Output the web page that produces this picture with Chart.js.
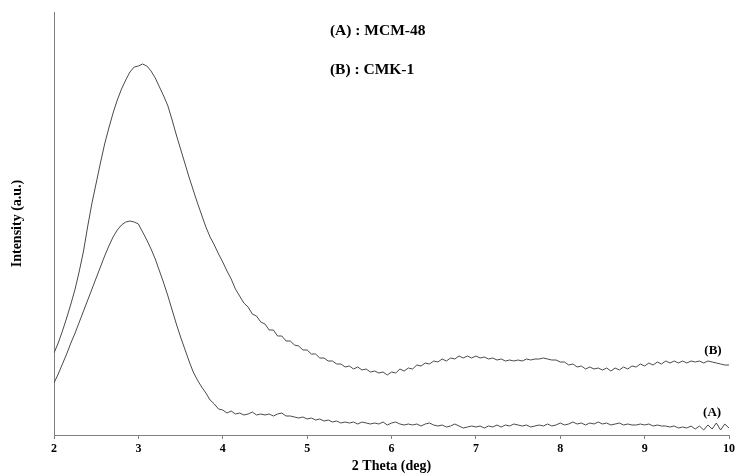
<!DOCTYPE html>
<html><head><meta charset="utf-8">
<script src="https://cdn.jsdelivr.net/npm/chart.js@4/dist/chart.umd.min.js"></script>
<style>html,body{margin:0;padding:0;background:#fff}#wrap{width:735px;height:476px}</style>
</head><body><div id="wrap"><canvas id="c" width="735" height="476"></canvas></div>
<script>
const twoTheta = [
2.00,2.05,2.10,2.15,2.20,2.25,2.30,2.35,2.40,2.45,
2.50,2.55,2.60,2.65,2.70,2.75,2.80,2.85,2.90,2.95,
3.00,3.05,3.10,3.15,3.20,3.25,3.30,3.35,3.40,3.45,
3.50,3.55,3.60,3.65,3.70,3.75,3.80,3.85,3.90,3.95,
4.00,4.05,4.10,4.15,4.20,4.25,4.30,4.35,4.40,4.45,
4.50,4.55,4.60,4.65,4.70,4.75,4.80,4.85,4.90,4.95,
5.00,5.05,5.10,5.15,5.20,5.25,5.30,5.35,5.40,5.45,
5.50,5.55,5.60,5.65,5.70,5.75,5.80,5.85,5.90,5.95,
6.00,6.05,6.10,6.15,6.20,6.25,6.30,6.35,6.40,6.45,
6.50,6.55,6.60,6.65,6.70,6.75,6.80,6.85,6.90,6.95,
7.00,7.05,7.10,7.15,7.20,7.25,7.30,7.35,7.40,7.45,
7.50,7.55,7.60,7.65,7.70,7.75,7.80,7.85,7.90,7.95,
8.00,8.05,8.10,8.15,8.20,8.25,8.30,8.35,8.40,8.45,
8.50,8.55,8.60,8.65,8.70,8.75,8.80,8.85,8.90,8.95,
9.00,9.05,9.10,9.15,9.20,9.25,9.30,9.35,9.40,9.45,
9.50,9.55,9.60,9.65,9.70,9.75,9.80,9.85,9.90,9.95,
10.00];

// (A) MCM-48 intensity (a.u.)
const mcm48 = [
52,61,71,81,92,102,113,124,135,146,
157,168,179,189,198,205,210,213,214,213,
211,203,195,186,176,164,152,139,125,111,
98,86,74,63,55,48,42,35,31,26,
25,22,24,21,22,20,21,23,20,21,
20,21,19,21,22,19,19,18,17,18,
16,17,15,16,14,15,13,14,12,13,
12,13,11,13,12,11,12,11,13,10,
12,13,11,10,11,10,11,9,11,12,
10,9,10,8,9,11,9,7,8,9,
8,9,7,9,8,10,8,10,9,11,
10,9,10,8,9,10,9,11,9,10,
12,10,11,13,11,12,10,12,11,13,
11,12,10,11,12,10,11,10,10,11,
10,11,9,10,9,9,8,9,7,8,
7,9,6,9,5,10,6,12,5,11,
7];

// (B) CMK-1 intensity (a.u.)
const cmk1 = [
82,92,104,117,131,146,164,184,209,232,
252,272,291,307,322,335,346,355,363,368,
369,371,369,364,357,348,339,329,315,300,
286,272,258,245,232,220,208,198,190,181,
173,164,156,146,139,132,128,121,119,113,
111,105,105,99,99,94,94,90,89,85,
85,81,81,77,77,74,74,71,71,68,
69,66,68,65,66,63,64,62,63,60,
63,62,66,64,67,66,70,69,72,71,
74,73,76,74,77,76,79,77,79,77,
79,77,78,76,77,75,76,74,75,74,
75,74,76,75,76,76,77,76,75,75,
73,73,70,71,68,69,66,68,66,67,
65,67,64,67,65,68,66,69,68,71,
69,72,70,73,71,74,72,74,72,74,
72,74,73,74,72,74,73,72,71,70,
70];

const xMin = 2, xMax = 10, xStep = 1;
const yMin = 0, yMax = 423;

const notes = [
  {text: '(A) : MCM-48', x: 5.27, y: 404, size: 15.5, align: 'left'},
  {text: '(B) : CMK-1',  x: 5.27, y: 365, size: 15.5, align: 'left'},
  {text: '(B)', x: 9.81, y: 84, size: 13, align: 'center'},
  {text: '(A)', x: 9.80, y: 22, size: 13, align: 'center'}
];

const SERIF = '"Liberation Serif", "Times New Roman", serif';

const notePlugin = {
  id: 'notes',
  afterDatasetsDraw(chart) {
    const {ctx, scales} = chart;
    ctx.save();
    ctx.fillStyle = '#000';
    ctx.textBaseline = 'middle';
    notes.forEach(n => {
      ctx.font = 'bold ' + n.size + 'px ' + SERIF;
      ctx.textAlign = n.align;
      ctx.fillText(n.text, scales.x.getPixelForValue(n.x), scales.y.getPixelForValue(n.y));
    });
    ctx.restore();
  }
};

const lineColor = '#4a4a4a';
const axisColor = '#808080';

new Chart(document.getElementById('c'), {
  type: 'line',
  data: {
    datasets: [
      {label: '(A) MCM-48', data: twoTheta.map((x, i) => ({x, y: mcm48[i]})),
       borderColor: lineColor, borderWidth: 1, pointRadius: 0, tension: 0, fill: false},
      {label: '(B) CMK-1', data: twoTheta.map((x, i) => ({x, y: cmk1[i]})),
       borderColor: lineColor, borderWidth: 1, pointRadius: 0, tension: 0, fill: false}
    ]
  },
  options: {
    responsive: false,
    animation: false,
    layout: {padding: {left: 0, top: 12, right: 6, bottom: 0}},
    plugins: {legend: {display: false}, tooltip: {enabled: false}},
    scales: {
      x: {
        type: 'linear', min: xMin, max: xMax,
        ticks: {stepSize: xStep, color: '#000', padding: 3,
                font: {family: SERIF, size: 12, weight: 'bold'}},
        grid: {drawOnChartArea: false, tickLength: 4, color: axisColor},
        border: {color: axisColor, width: 1},
        title: {display: true, text: '2 Theta (deg)', color: '#000',
                font: {family: SERIF, size: 14, weight: 'bold', lineHeight: 1.2},
                padding: {top: 0, bottom: 1}},
        afterFit: s => { s.height = 41; s.paddingRight = 0; s.paddingLeft = 0; }
      },
      y: {
        min: yMin, max: yMax,
        ticks: {display: false},
        grid: {display: false},
        border: {color: axisColor, width: 1},
        title: {display: true, text: 'Intensity (a.u.)', color: '#000',
                font: {family: SERIF, size: 14, weight: 'bold', lineHeight: 1.2},
                padding: {top: 9, bottom: 0}},
        afterFit: s => { s.width = 54; s.paddingTop = 0; s.paddingBottom = 0; }
      }
    }
  },
  plugins: [notePlugin]
});
</script>
</body></html>
